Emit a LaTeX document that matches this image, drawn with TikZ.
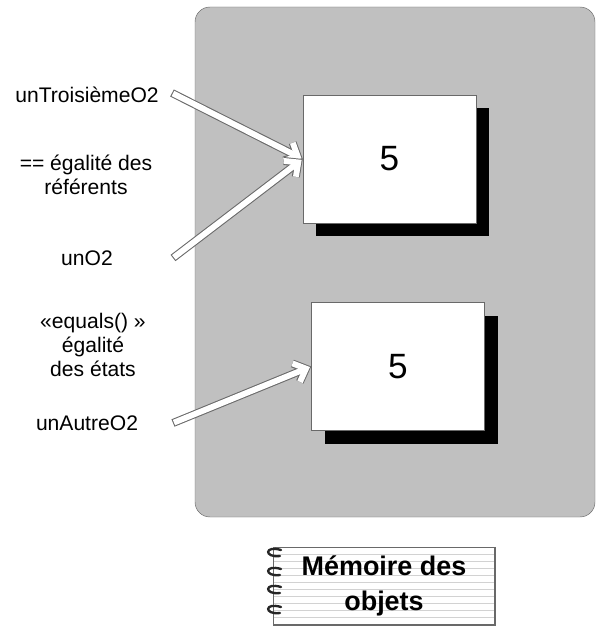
\documentclass[tikz,border=0pt]{standalone}
\usepackage{fontspec}
\setmainfont{Liberation Sans}
\usetikzlibrary{arrows.meta,shadows}
\definecolor{panel}{RGB}{192,192,192}
\definecolor{border}{RGB}{105,105,105}

\begin{document}
\begin{tikzpicture}[x=0.03cm, y=-0.03cm, font=\fontsize{18}{20.5}\selectfont, every node/.style={align=center},
  objet/.style={draw=border, fill=white, minimum width=5.19cm, minimum height=3.84cm, font=\fontsize{30}{36}\selectfont, drop shadow={shadow xshift=0.4cm, shadow yshift=-0.4cm, fill=black, opacity=1}},
  fleche/.style={draw=border, line width=6.8pt, line join=miter, -{Straight Barb[length=9pt, width=17pt]},
    postaction={draw=white, line width=5pt, shorten <=0.9pt, shorten >=1.2pt, -{Straight Barb[length=9pt, width=17pt]}}}]
\useasboundingbox (0,0) rectangle (597,627);
\draw[border, fill=panel, rounded corners=0.45cm] (195,7) rectangle (595,517);
\node[objet] (o1) at (389.5,159) {5};
\node[objet] (o2) at (398,366.5) {5};
\node (trois) at (87,95) {unTroisièmeO2};
\node (ref) at (86,175) {== égalité des\\référents};
\node (uno) at (87,258) {unO2};
\node (etat) at (93,345) {«equals() »\\égalité\\des états};
\node (autre) at (87,423) {unAutreO2};
\coordinate (d1) at (172,93);
\coordinate (d2) at (173,258);
\coordinate (d3) at (173,423);
\draw[fleche] (d1) -- (o1.west);
\draw[fleche] (d2) -- (o1.west);
\draw[fleche] (d3) -- (o2.west);
\node[draw=border, fill=white, minimum width=6.66cm, minimum height=2.34cm, font=\bfseries\fontsize{23}{30}\selectfont,
  path picture={\foreach \k in {1,...,10} \draw[gray!35] ([yshift=-\k*0.21cm]path picture bounding box.north west) -- ([yshift=-\k*0.21cm]path picture bounding box.north east);}] (note) at (384,586) {Mémoire des\\objets};
\draw[border, line width=1.5pt] (note.north east) -- (note.south east) -- (note.south west);
\foreach \r in {553,572,590,610}
  \draw[line width=2pt, black!85, line cap=round] (281,\r-3) .. controls (264,\r-8) and (264,\r+5) .. (280,\r+3);
\end{tikzpicture}
\end{document}
